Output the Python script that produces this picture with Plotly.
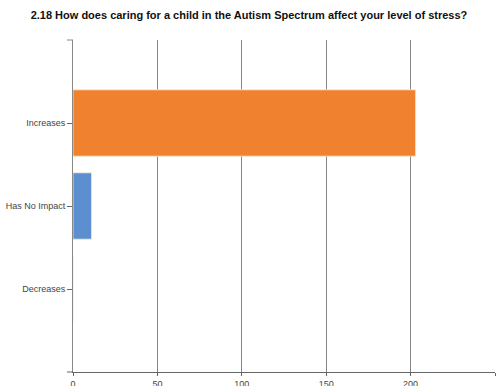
import plotly.graph_objects as go

categories = ["Increases", "Has No Impact", "Decreases"]
values = [203, 11, 0]
bar_colors = ["#F0812E", "#5B8FD0", "#5B8FD0"]
x_ticks = [0, 50, 100, 150, 200, 250]
title_text = "2.18 How does caring for a child in the Autism Spectrum affect your level of stress?"

fig = go.Figure()
fig.add_trace(go.Bar(
    y=categories,
    x=values,
    orientation="h",
    width=0.8,
    marker=dict(color=bar_colors, line=dict(color="rgba(255,235,215,0.8)", width=1)),
    hoverinfo="x+y",
))

fig.update_layout(
    width=501, height=386,
    margin=dict(l=73, r=6, t=40, b=14, autoexpand=False),
    paper_bgcolor="white",
    plot_bgcolor="white",
    showlegend=False,
    title=dict(
        text="<b>" + title_text + "</b>",
        font=dict(family="Liberation Sans, Arial", size=11, color="#111"),
        x=0.497, xanchor="center",
        y=1 - 15 / 386, yanchor="middle",
    ),
    xaxis=dict(
        range=[0, 250],
        tickvals=x_ticks,
        ticktext=[str(v) for v in x_ticks],
        showgrid=True,
        gridcolor="#858585",
        gridwidth=1,
        zeroline=False,
        showline=True,
        linecolor="#666",
        linewidth=1,
        ticks="outside",
        ticklen=3,
        tickcolor="#666",
        tickfont=dict(family="Liberation Sans, Arial", size=9, color="#444"),
        automargin=False,
        fixedrange=True,
    ),
    yaxis=dict(
        type="category",
        categoryorder="array",
        categoryarray=categories,
        range=[3, -1],
        showgrid=False,
        zeroline=False,
        showline=True,
        linecolor="#888",
        linewidth=1,
        ticks="outside",
        ticklen=5,
        tickcolor="#666",
        tickfont=dict(family="Liberation Sans, Arial", size=9, color="#444"),
        automargin=False,
        fixedrange=True,
    ),
)

# small extension of the axis lines seen in the reference
fig.add_shape(type="line", xref="paper", yref="paper", x0=-6/422, x1=0, y0=0, y1=0,
              line=dict(color="#666", width=1))
fig.add_shape(type="line", xref="paper", yref="paper", x0=-6/422, x1=0, y0=1, y1=1,
              line=dict(color="#888", width=1))

fig.write_html("out.html")
